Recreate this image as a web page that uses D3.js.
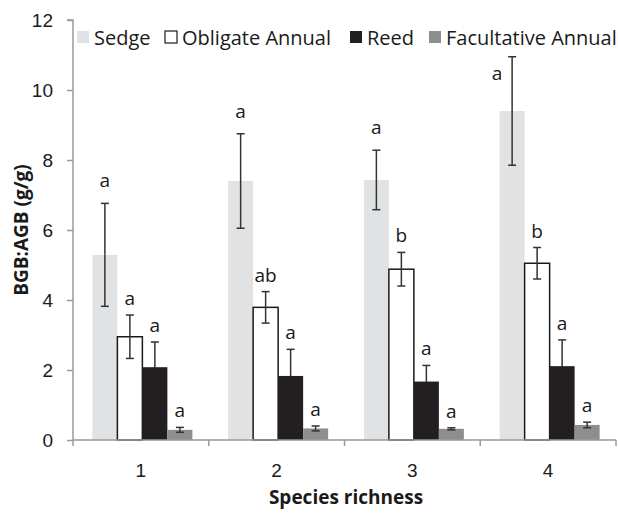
<!DOCTYPE html>
<html>
<head>
<meta charset="utf-8">
<script src="https://cdn.jsdelivr.net/npm/d3@7"></script>
<style>
  html, body { margin: 0; padding: 0; background: #fff; }
  svg { display: block; font-family: "Open Sans", "DejaVu Sans", sans-serif; }
</style>
</head>
<body>
<svg id="chart" width="618" height="515"></svg>
<script>
// Species richness levels
const richness = ["1", "2", "3", "4"];
// Functional groups
const groups = ["Sedge", "Obligate Annual", "Reed", "Facultative Annual"];
const groupColors = ["#e1e2e4", "#ffffff", "#231f20", "#8d8e90"];

// Mean BGB:AGB ratio per group, one entry per richness level
const sedge = [5.29, 7.40, 7.43, 9.40];
const obligate = [2.95, 3.79, 4.88, 5.05];
const reed = [2.08, 1.83, 1.67, 2.11];
const facultative = [0.29, 0.33, 0.32, 0.43];

// Standard errors
const sedgeSE = [1.47, 1.35, 0.85, 1.55];
const obligateSE = [0.62, 0.45, 0.48, 0.45];
const reedSE = [0.72, 0.76, 0.46, 0.75];
const facultativeSE = [0.07, 0.07, 0.03, 0.08];

// Significance letters
const sedgeLetters = ["a", "a", "a", "a"];
const obligateLetters = ["a", "ab", "b", "b"];
const reedLetters = ["a", "a", "a", "a"];
const facultativeLetters = ["a", "a", "a", "a"];

const yTicks = [0, 2, 4, 6, 8, 10, 12];

const means = [sedge, obligate, reed, facultative];
const ses = [sedgeSE, obligateSE, reedSE, facultativeSE];
const letters = [sedgeLetters, obligateLetters, reedLetters, facultativeLetters];

const rows = [];
richness.forEach((r, i) => {
  groups.forEach((g, j) => {
    rows.push({ r, g, j, v: means[j][i], se: ses[j][i], letter: letters[j][i] });
  });
});

const svg = d3.select("#chart");
const plotLeft = 73, plotRight = 616, plotTop = 20, plotBottom = 440;
const textColor = "#1a1a1a";
const axisColor = "#9a9a9a";
const errColor = "#333333";

const x = d3.scaleBand().domain(richness).range([plotLeft, plotRight]).paddingInner(0).paddingOuter(0);
const inner = d3.scaleBand().domain(groups).range([0, 100]);
const y = d3.scaleLinear().domain([0, 12]).range([plotBottom, plotTop]);

// Bars
const barOffset = (x.bandwidth() - 100) / 2 + 1.5;
const barX = d => x(d.r) + barOffset + inner(d.g);
const barCx = d => barX(d) + inner.bandwidth() / 2;

svg.append("g").selectAll("rect").data(rows).join("rect")
  .attr("x", barX)
  .attr("width", inner.bandwidth())
  .attr("y", d => y(d.v))
  .attr("height", d => y(0) - y(d.v))
  .attr("fill", d => groupColors[d.j])
  .attr("stroke", d => d.j === 1 ? textColor : "none")
  .attr("stroke-width", 1.5);

// Error bars (mean ± SE); the lower whisker vanishes into the dark reed bars
const eb = svg.append("g").attr("stroke-width", 1.5);
rows.forEach(d => {
  const cx = barCx(d);
  const y1 = y(d.v + d.se), ym = y(d.v), y0 = y(d.v - d.se);
  const lowColor = d.j === 2 ? groupColors[2] : errColor;
  eb.append("line").attr("stroke", errColor).attr("x1", cx).attr("x2", cx).attr("y1", y1).attr("y2", ym);
  eb.append("line").attr("stroke", errColor).attr("x1", cx - 4).attr("x2", cx + 4).attr("y1", y1).attr("y2", y1);
  eb.append("line").attr("stroke", lowColor).attr("x1", cx).attr("x2", cx).attr("y1", ym).attr("y2", y0);
  eb.append("line").attr("stroke", lowColor).attr("x1", cx - 4).attr("x2", cx + 4).attr("y1", y0).attr("y2", y0);
});

// Letters above error bars
svg.append("g").selectAll("text").data(rows).join("text")
  .each(function (d) {
    const cx = barCx(d);
    let ty = y(d.v + d.se) - (d.j === 0 ? 16 : 10);
    let tx = cx;
    if (ty < 60) { // no room under the legend: set beside the error bar
      ty = y(d.v + d.se) + 23;
      tx = cx - 15;
    }
    d3.select(this).attr("x", tx).attr("y", ty);
  })
  .attr("text-anchor", "middle")
  .attr("font-size", 19)
  .attr("fill", textColor)
  .text(d => d.letter);

// Y axis
const yAxis = svg.append("g").attr("transform", `translate(${plotLeft},0)`)
  .call(d3.axisLeft(y).tickValues(yTicks).tickSize(6).tickPadding(14).tickFormat(d3.format("d")));
yAxis.select(".domain").attr("stroke", axisColor).attr("stroke-width", 1.5).attr("d", `M-6,${plotTop}H0V${plotBottom}`);
yAxis.selectAll(".tick line").attr("stroke", axisColor).attr("stroke-width", 1.5);
yAxis.selectAll(".tick text").attr("font-size", 19).attr("fill", textColor).attr("font-family", null);

// X axis
const xAxis = svg.append("g").attr("transform", `translate(0,${plotBottom})`)
  .call(d3.axisBottom(x).tickSize(0).tickPadding(24));
xAxis.select(".domain").attr("stroke", axisColor).attr("stroke-width", 1.5).attr("d", `M${plotLeft},0H${plotRight}`);
xAxis.selectAll(".tick text").attr("font-size", 19).attr("fill", textColor).attr("font-family", null);
const boundaries = richness.map(r => x(r)).concat([x(richness[richness.length - 1]) + x.bandwidth()]);
xAxis.selectAll("line.sep").data(boundaries).join("line").attr("class", "sep")
  .attr("x1", d => d).attr("x2", d => d).attr("y1", 0).attr("y2", 6)
  .attr("stroke", axisColor).attr("stroke-width", 1.5);

// Axis titles
svg.append("text").attr("x", 346).attr("y", 504)
  .attr("text-anchor", "middle").attr("font-size", 19).attr("font-weight", "bold")
  .attr("fill", textColor).text("Species richness");
svg.append("text").attr("transform", `translate(28,230) rotate(-90)`)
  .attr("text-anchor", "middle").attr("font-size", 19).attr("font-weight", "bold")
  .attr("fill", textColor).text("BGB:AGB (g/g)");

// Legend
const legendX = [77, 165, 350, 429];
const legend = svg.append("g");
groups.forEach((g, j) => {
  const lg = legend.append("g").attr("transform", `translate(${legendX[j]},31)`);
  lg.append("rect").attr("x", 0).attr("y", 0).attr("width", 12).attr("height", 12)
    .attr("fill", groupColors[j])
    .attr("stroke", j === 1 ? textColor : "none").attr("stroke-width", 1.2);
  lg.append("text").attr("x", 17).attr("y", 14).attr("font-size", 20).attr("fill", textColor).text(g);
});
</script>
</body>
</html>
